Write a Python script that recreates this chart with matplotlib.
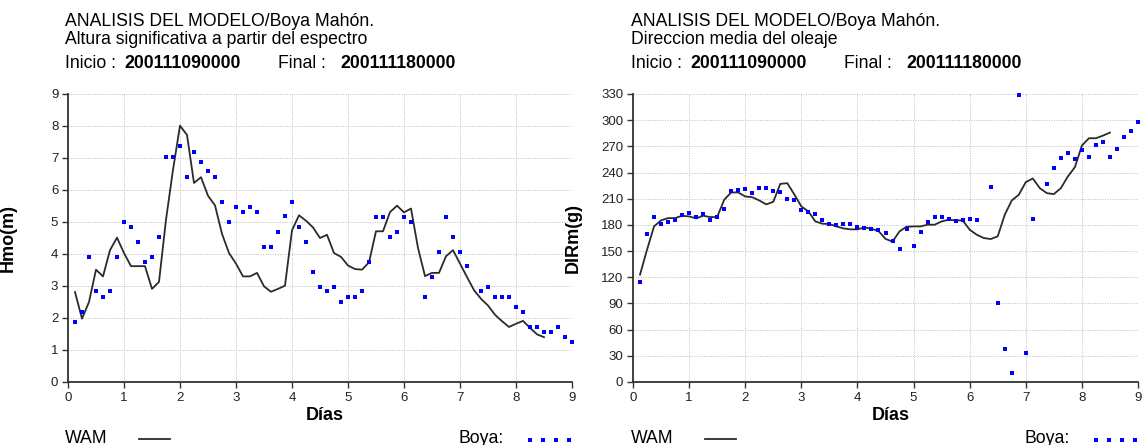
import matplotlib
matplotlib.use("Agg")
import matplotlib.pyplot as plt
from matplotlib.lines import Line2D
import numpy as np

plt.rcParams['font.family'] = ['Liberation Sans', 'DejaVu Sans']

# ---- data ----
days = [i / 8 for i in range(1, 73)]          # 3-hourly, 0.125 .. 9.0 days
days_wam = days[:68]                           # model to 8.5 days

hmo_wam = [2.81, 1.98, 2.5, 3.51, 3.3, 4.12, 4.51, 4.03, 3.62, 3.62, 3.62, 2.91,
           3.13, 5.07, 6.63, 8.01, 7.72, 6.22, 6.4, 5.82, 5.52, 4.63, 4.03, 3.7,
           3.3, 3.3, 3.41, 2.99, 2.82, 2.91, 3.01, 4.74, 5.21, 5.04, 4.83, 4.5,
           4.6, 4.03, 3.91, 3.64, 3.53, 3.51, 3.74, 4.71, 4.71, 5.31, 5.51, 5.3,
           5.42, 4.19, 3.31, 3.41, 3.41, 3.93, 4.12, 3.7, 3.28, 2.87, 2.6, 2.39,
           2.1, 1.9, 1.72, 1.82, 1.91, 1.69, 1.49, 1.4]
nan = float('nan')
hmo_boya = [1.89, 2.18, 3.92, 2.83, 2.67, 2.83, 3.92, 5.01, 4.84, 4.39, 3.76, 3.92,
            4.54, 7.04, 7.04, 7.36, 6.42, 7.2, 6.89, 6.58, 6.42, 5.64, 5.01, 5.48,
            5.32, 5.48, 5.32, 4.23, 4.23, 4.7, 5.18, 5.64, 4.84, 4.39, 3.45, 2.98,
            2.83, 2.98, 2.49, 2.67, 2.67, 2.83, 3.76, 5.17, 5.17, 4.54, 4.7, 5.17,
            5.01, nan, 2.67, 3.28, 4.07, 5.17, 4.54, 4.07, 3.61, nan, 2.83, 2.98,
            2.67, 2.67, 2.67, 2.34, 2.2, 1.73, 1.73, 1.57, 1.57, 1.73, 1.41, 1.26]

dir_wam = [123, 151.6, 178.3, 185.2, 187.8, 187.8, 190.5, 189.7, 187.5, 190.5, 189, 189,
           208.8, 217.2, 217.2, 212.6, 211.8, 208, 203.5, 206.5, 227, 227.8, 214.9, 201.2,
           195.5, 184, 181.4, 181, 178.3, 176, 174.9, 174.9, 177.2, 175.5, 173, 164,
           160.8, 172.6, 177.9, 178.3, 178.3, 180.2, 180.2, 184, 185.9, 185.2, 185.2, 174.5,
           168.8, 165, 163.8, 166.9, 191.6, 208, 214.5, 229, 233.2, 222.1, 216.4, 215.3,
           222.1, 235.5, 246.1, 270.9, 279.3, 279.3, 282.3, 285.8]
dir_boya = [114.3, 169.9, 189.4, 180.6, 182.9, 185.9, 191.3, 193.5, 189.4, 192, 185.9, 189.4,
            198.1, 219.1, 220.2, 221.7, 216.4, 222.5, 222.5, 219.1, 217.2, 209.2, 208, 197,
            195.1, 192, 185.2, 180.6, 179.4, 181.4, 181.4, 177.5, 176.8, 175, 174.7, 170.3,
            161.9, 152.8, 175.3, 155.4, 171.4, 182.9, 189.4, 188.6, 186.7, 184, 185.5, 186.3,
            185.5, nan, 223.3, 90.3, 38.1, 9.9, 329.2, 33.1, 186.3, nan, 227.1, 245.4,
            257.2, 262.5, 256, 265.6, 258, 272, 275.5, 258, 267.1, 281.2, 287.3, 298.3]

x_ticks = list(range(0, 10))
hmo_ticks = list(range(0, 10))
dir_ticks = list(range(0, 331, 30))

title1 = "ANALISIS DEL MODELO/Boya Mahón."
subtitles = ["Altura significativa a partir del espectro", "Direccion media del oleaje"]
ylabels = ["Hmo(m)", "DIRm(g)"]
inicio = "200111090000"
final = "200111180000"

# ---- figure ----
W, H = 1145, 445
fig = plt.figure(figsize=(W / 100, H / 100), dpi=100)

def fx(x):
    return x / W

def fy(y):
    return 1 - y / H

ax1 = fig.add_axes([fx(68), 63 / H, 504 / W, 288 / H])
ax2 = fig.add_axes([fx(633), 63 / H, 505 / W, 288 / H])

LINEC = '#2b2b2b'
BLUE = '#0000ff'

panels = [
    (ax1, hmo_wam, hmo_boya, hmo_ticks, 9, 0),
    (ax2, dir_wam, dir_boya, dir_ticks, 330, 566),
]

for i, (ax, wam, boya, yt, ymax, dx) in enumerate(panels):
    ax.plot(days_wam, wam, color=LINEC, lw=1.3, zorder=3)
    ax.plot(days, boya, linestyle='none', marker='s', markersize=2.4,
            color=BLUE, markeredgewidth=0, zorder=4, clip_on=False)
    ax.set_xlim(0, 9)
    ax.set_ylim(0, ymax)
    ax.set_xticks(x_ticks)
    ax.set_yticks(yt)
    ax.grid(True, color='#bdbdbd', linestyle=(0, (1, 1.5)), linewidth=0.7)
    ax.set_axisbelow(True)
    for s in ['top', 'right']:
        ax.spines[s].set_visible(False)
    for s in ['left', 'bottom']:
        ax.spines[s].set_color('#333333')
        ax.spines[s].set_linewidth(1.3)
    ax.tick_params(direction='out', length=4, width=1, pad=3,
                   labelsize=9.5, colors='#333333', labelcolor='#222222')
    ax.set_ylabel(ylabels[i], fontsize=13, fontweight='bold')
    ax.yaxis.set_label_coords(-0.101, 0.5)
    ax.text(0.51, -0.118, "Días", transform=ax.transAxes, ha='center', va='center',
            fontsize=13, fontweight='bold')

    # header
    fig.text(fx(65 + dx), fy(26), title1, fontsize=12.7, va='baseline')
    fig.text(fx(65 + dx), fy(44), subtitles[i], fontsize=12.7, va='baseline')
    fig.text(fx(65 + dx), fy(68), "Inicio :", fontsize=12.7, va='baseline')
    fig.text(fx(124 + dx), fy(68), inicio, fontsize=12.7, va='baseline', fontweight='bold')
    fig.text(fx(278 + dx), fy(68), "Final :", fontsize=12.7, va='baseline')
    fig.text(fx(340 + dx), fy(68), final, fontsize=12.7, va='baseline', fontweight='bold')

    # legend
    fig.text(fx(65 + dx), fy(443), "WAM", fontsize=12.7, va='baseline')
    fig.add_artist(Line2D([fx(139 + dx), fx(170 + dx)], [fy(439), fy(439)],
                          color=LINEC, lw=1.3, transform=fig.transFigure))
    fig.text(fx(458 + dx), fy(443), "Boya:", fontsize=12.7, va='baseline')
    fig.add_artist(Line2D([fx(530 + dx + 13 * k) for k in range(4)], [fy(440)] * 4,
                          linestyle='none', marker='s', markersize=2.8,
                          markeredgewidth=0, color=BLUE, transform=fig.transFigure))

fig.savefig("out.png", dpi=100)
